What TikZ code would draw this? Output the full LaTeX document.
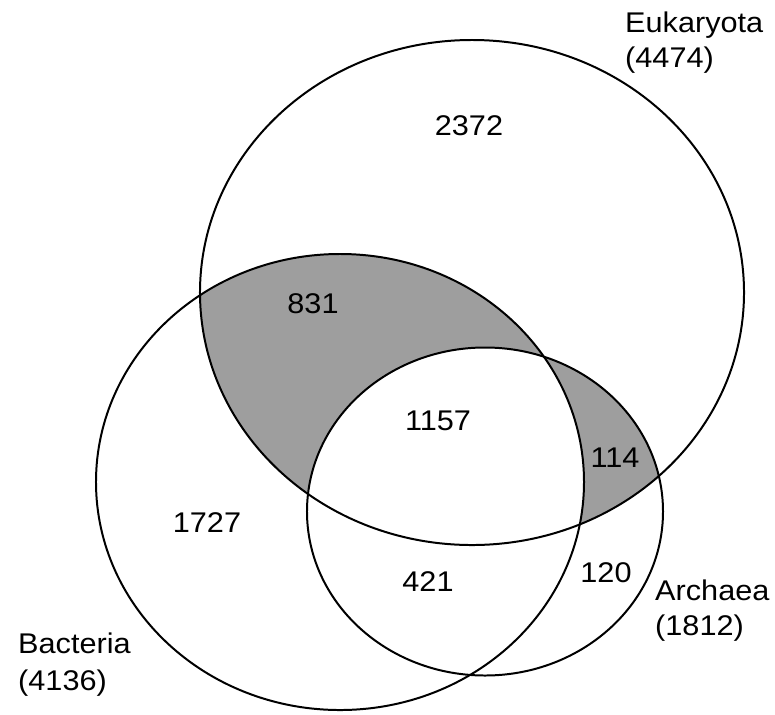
\documentclass[tikz,border=0pt]{standalone}
\usepackage{fontspec}
\setmainfont{Liberation Sans}
\begin{document}
\begin{tikzpicture}[x=0.03cm,y=-0.03cm,
  ring/.style={draw=black,line width=1.7pt},
  shadefill/.style={fill=black!38},
  lab/.style={font=\fontsize{24.3}{29.8}\selectfont,inner sep=0pt,anchor=base west,align=left},
  num/.style={font=\fontsize{24.3}{29.8}\selectfont,inner sep=0pt,anchor=base}]
\useasboundingbox (0,0) rectangle (775,714);
\def\euk{(472,292.5) ellipse [x radius=8.16cm, y radius=7.575cm]}
\def\bac{(340,482) ellipse [x radius=7.32cm, y radius=6.84cm]}
\def\arc{(485,511.5) ellipse [x radius=5.34cm, y radius=4.92cm]}
% shaded regions
\begin{scope}
  \clip \euk;
  \fill[shadefill] \bac;
  \fill[shadefill] \arc;
\end{scope}
\begin{scope}
  \clip \euk;
  \clip \bac;
  \fill[white] \arc;
\end{scope}
% outlines
\draw[ring] \euk;
\draw[ring] \bac;
\draw[ring] \arc;
% set labels
\node[lab] (leuk) at (625,32) {\scalebox{1.077}[1]{Eukaryota}};
\node[lab] (leukn) at (625,67) {\scalebox{1.077}[1]{(4474)}};
\node[lab] (larc) at (655,600) {\scalebox{1.077}[1]{Archaea}};
\node[lab] (larcn) at (655,635) {\scalebox{1.077}[1]{(1812)}};
\node[lab] (lbac) at (18,653) {\scalebox{1.077}[1]{Bacteria}};
\node[lab] (lbacn) at (18,690) {\scalebox{1.077}[1]{(4136)}};
% region counts
\node[num] (n2372) at (469,135) {\scalebox{1.077}[1]{2372}};
\node[num] (n831) at (313,313) {\scalebox{1.077}[1]{831}};
\node[num] (n1157) at (438,430) {\scalebox{1.077}[1]{1157}};
\node[num] (n114) at (615,467) {\scalebox{1.077}[1]{114}};
\node[num] (n1727) at (207,532) {\scalebox{1.077}[1]{1727}};
\node[num] (n421) at (428,591) {\scalebox{1.077}[1]{421}};
\node[num] (n120) at (606,582) {\scalebox{1.077}[1]{120}};
\end{tikzpicture}
\end{document}
